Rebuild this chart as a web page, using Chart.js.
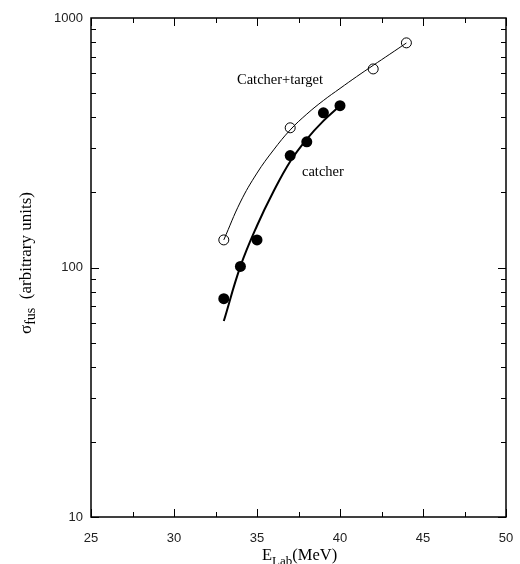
<!DOCTYPE html>
<html>
<head>
<meta charset="utf-8">
<script src="https://cdn.jsdelivr.net/npm/chart.js@4/dist/chart.umd.min.js"></script>
<style>
  html, body { margin: 0; padding: 0; background: #fff; }
  #wrap { width: 520px; height: 564px; }
</style>
</head>
<body>
<div id="wrap"><canvas id="grafico"></canvas></div>
<script>
// measured points
const energiaAlvo = [33, 37, 42, 44];
const sigmaAlvo = [129, 363, 625, 795];
const energiaCatcher = [33, 34, 35, 37, 38, 39, 40];
const sigmaCatcher = [75, 101, 129, 281, 319, 417, 445];

// fitted curves
const energiaAjusteAlvo = [33, 34, 35, 36, 37, 38, 39, 40, 41, 42, 43, 44];
const sigmaAjusteAlvo = [129, 183, 239, 296, 356, 412, 467, 522, 582, 646, 716, 794];
const energiaAjusteCatcher = [33, 34, 35, 36, 37, 38, 39, 40];
const sigmaAjusteCatcher = [61, 101, 147, 202, 266, 327, 387, 445];

const ticksX = [25, 30, 35, 40, 45, 50];
const ticksY = [10, 100, 1000];

function pares(xs, ys) {
    return xs.map((x, i) => ({ x: x, y: ys[i] }));
}

// frame, inward ticks, annotations and axis titles
const molduraPlugin = {
    id: 'moldura',
    afterDraw(chart) {
        const ctx = chart.ctx;
        const a = chart.chartArea;
        const sx = chart.scales.x;
        const sy = chart.scales.y;
        ctx.save();
        ctx.strokeStyle = '#000';
        ctx.lineWidth = 1.5;
        ctx.strokeRect(a.left, a.top, a.right - a.left, a.bottom - a.top);

        ctx.lineWidth = 1;
        // x ticks, top and bottom
        for (let v = 25; v <= 50; v += 2.5) {
            const px = Math.round(sx.getPixelForValue(v)) + 0.5;
            const len = (v % 5 === 0) ? 8 : 5;
            ctx.beginPath();
            ctx.moveTo(px, a.bottom); ctx.lineTo(px, a.bottom - len);
            ctx.moveTo(px, a.top); ctx.lineTo(px, a.top + len);
            ctx.stroke();
        }
        // y ticks, left and right
        for (let d = 10; d < 1000; d *= 10) {
            for (let m = 1; m <= 9; m++) {
                const v = d * m;
                const py = Math.round(sy.getPixelForValue(v)) + 0.5;
                const len = (m === 1) ? 8 : 5;
                ctx.beginPath();
                ctx.moveTo(a.left, py); ctx.lineTo(a.left + len, py);
                ctx.moveTo(a.right, py); ctx.lineTo(a.right - len, py);
                ctx.stroke();
            }
        }

        // labels for the curves
        ctx.fillStyle = '#000';
        ctx.font = '14.5px "Liberation Serif", serif';
        ctx.textBaseline = 'middle';
        ctx.textAlign = 'left';
        ctx.fillText('Catcher+target', 237, 80);
        ctx.fillText('catcher', 302, 172);

        // x title with subscript
        ctx.font = '16.5px "Liberation Serif", serif';
        ctx.textBaseline = 'alphabetic';
        let x = 262;
        const base = 560;
        ctx.fillText('E', x, base);
        x += ctx.measureText('E').width;
        ctx.font = '13px "Liberation Serif", serif';
        ctx.fillText('Lab', x, base + 5);
        x += ctx.measureText('Lab').width;
        ctx.font = '16.5px "Liberation Serif", serif';
        ctx.fillText('(MeV)', x, base);

        // y title, rotated
        ctx.translate(31, 263);
        ctx.rotate(-Math.PI / 2);
        const t1 = '\u03C3', t2 = 'fus', t3 = '  (arbitrary units)';
        ctx.font = '17px "Liberation Serif", serif';
        const w1 = ctx.measureText(t1).width;
        const w3 = ctx.measureText(t3).width;
        ctx.font = '14px "Liberation Serif", serif';
        const w2 = ctx.measureText(t2).width;
        let p = -(w1 + w2 + w3) / 2;
        ctx.font = '17px "Liberation Serif", serif';
        ctx.fillText(t1, p, 0);
        p += w1;
        ctx.font = '14px "Liberation Serif", serif';
        ctx.fillText(t2, p, 4);
        p += w2;
        ctx.font = '17px "Liberation Serif", serif';
        ctx.fillText(t3, p, 0);
        ctx.restore();
    }
};

const ctxGrafico = document.getElementById('grafico').getContext('2d');

const grafico = new Chart(ctxGrafico, {
    type: 'scatter',
    data: {
        datasets: [
            {
                label: 'ajuste catcher+target',
                type: 'line',
                data: pares(energiaAjusteAlvo, sigmaAjusteAlvo),
                borderColor: '#000',
                borderWidth: 1,
                pointRadius: 0,
                tension: 0.4,
                fill: false
            },
            {
                label: 'ajuste catcher',
                type: 'line',
                data: pares(energiaAjusteCatcher, sigmaAjusteCatcher),
                borderColor: '#000',
                borderWidth: 2,
                pointRadius: 0,
                tension: 0.4,
                fill: false
            },
            {
                label: 'Catcher+target',
                data: pares(energiaAlvo, sigmaAlvo),
                pointRadius: 5,
                pointBackgroundColor: '#fff',
                pointBorderColor: '#000',
                pointBorderWidth: 1
            },
            {
                label: 'catcher',
                data: pares(energiaCatcher, sigmaCatcher),
                pointRadius: 5.5,
                pointBackgroundColor: '#000',
                pointBorderColor: '#000',
                pointBorderWidth: 0
            }
        ]
    },
    options: {
        responsive: true,
        maintainAspectRatio: false,
        animation: false,
        events: [],
        layout: { padding: { top: 18, right: 14, left: 0, bottom: 0 } },
        plugins: {
            legend: { display: false },
            tooltip: { enabled: false }
        },
        scales: {
            x: {
                type: 'linear',
                min: 25,
                max: 50,
                afterBuildTicks: (s) => { s.ticks = ticksX.map(v => ({ value: v })); },
                afterFit: (s) => { s.height = 47; },
                grid: { display: false },
                border: { display: false },
                ticks: {
                    color: '#222',
                    padding: 6,
                    maxRotation: 0,
                    font: { family: '"Liberation Sans", Arial, sans-serif', size: 13 }
                }
            },
            y: {
                type: 'logarithmic',
                min: 10,
                max: 1000,
                afterBuildTicks: (s) => { s.ticks = ticksY.map(v => ({ value: v })); },
                afterFit: (s) => { s.width = 91; },
                grid: { display: false },
                border: { display: false },
                ticks: {
                    color: '#222',
                    padding: 0,
                    callback: (v) => String(v),
                    font: { family: '"Liberation Sans", Arial, sans-serif', size: 13 }
                }
            }
        }
    },
    plugins: [molduraPlugin]
});
</script>
</body>
</html>
